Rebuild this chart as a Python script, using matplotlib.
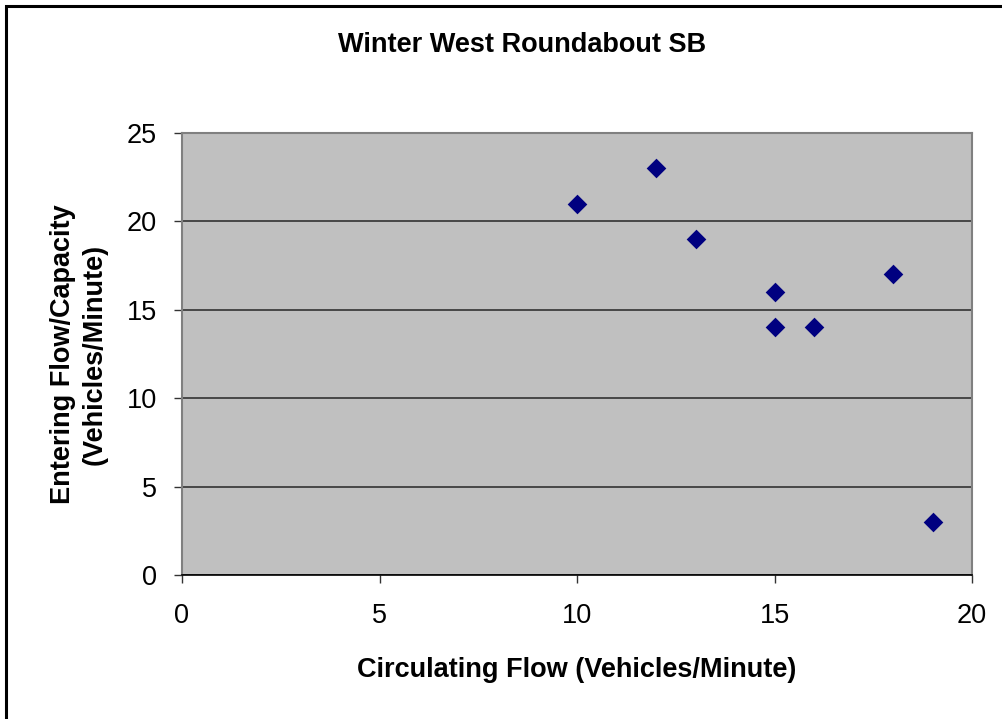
import numpy as np
import matplotlib.pyplot as plt
from matplotlib.patches import Rectangle

plt.rcParams['font.family'] = ['Liberation Sans', 'DejaVu Sans']

# donnees
circulating = [10, 12, 13, 15, 15, 16, 18, 19]
entering = [21, 23, 19, 16, 14, 14, 17, 3]
x_ticks = [0, 5, 10, 15, 20]
y_ticks = [0, 5, 10, 15, 20, 25]

fig = plt.figure(figsize=(10.03, 7.19), dpi=100)
ax = fig.add_axes([182/1003, 1 - 575/719, 790/1003, 442/719])

# cadre noir autour du graphique
fig.patches.append(Rectangle((6/1003, -0.1), 1.2, 1 - 6/719 + 0.1,
                             transform=fig.transFigure, fill=False,
                             edgecolor='black', linewidth=2.2))

ax.set_facecolor('#c0c0c0')
ax.scatter(circulating, entering, marker='D', s=100, color='#000080', zorder=3,
           linewidths=0)

ax.set_xlim(0, 20)
ax.set_ylim(0, 25)
ax.set_xticks(x_ticks)
ax.set_yticks(y_ticks)
ax.yaxis.grid(True, color='#333333', linewidth=1.2)
ax.set_axisbelow(True)

for s in ['top', 'right', 'left']:
    ax.spines[s].set_color('#808080')
    ax.spines[s].set_linewidth(1.5)
ax.spines['bottom'].set_color('black')
ax.spines['bottom'].set_linewidth(1.2)

ax.tick_params(direction='out', length=6, width=1, labelsize=19.5,
               color='#333333')
ax.tick_params(axis='y', pad=12)
ax.tick_params(axis='x', pad=14)

fig.text(522/1003, 1 - 45/719, "Winter West Roundabout SB", fontsize=19.5,
         fontweight='bold', ha='center', va='center')
ax.set_xlabel("Circulating Flow (Vehicles/Minute)", fontsize=19.5,
              fontweight='bold', labelpad=20)
ax.set_ylabel("Entering Flow/Capacity\n(Vehicles/Minute)", fontsize=19.5,
              fontweight='bold', labelpad=14, linespacing=1.25)

fig.savefig("out.png", dpi=100)
